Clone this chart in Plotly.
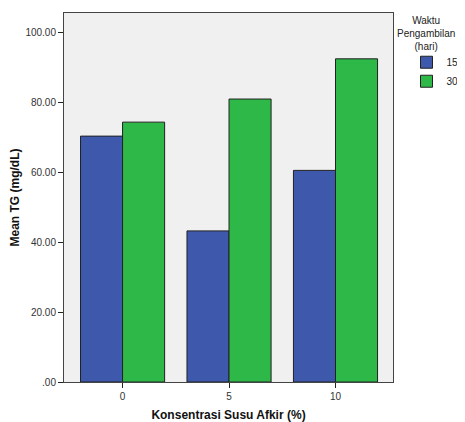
import plotly.graph_objects as go

categories = ["0", "5", "10"]
series_names = ["15", "30"]
values_15 = [70.3, 43.2, 60.5]
values_30 = [74.3, 80.9, 92.4]
y_ticks = [0, 20, 40, 60, 80, 100]
y_tick_labels = [".00", "20.00", "40.00", "60.00", "80.00", "100.00"]

colors = ["#3E58AC", "#2EB848"]

fig = go.Figure()
for name, vals, c in zip(series_names, [values_15, values_30], colors):
    fig.add_trace(go.Bar(
        x=categories, y=vals, name=name,
        marker=dict(color=c, line=dict(color="#222222", width=1)),
    ))

# page body has an 8px default margin, so the figure is sized/offset to compensate
fig.update_layout(
    width=457, height=414,
    barmode="group", bargap=0.21, bargroupgap=0,
    paper_bgcolor="white", plot_bgcolor="#F0F0F0",
    margin=dict(l=56, r=72, t=5, b=40, autoexpand=False),
    font=dict(family="Liberation Sans, Arial, sans-serif", size=10, color="#333333"),
    showlegend=True,
    legend=dict(
        xref="container", yref="container",
        x=0.872, y=0.904, xanchor="left", yanchor="top",
        font=dict(size=10, color="#222222"),
        bgcolor="rgba(0,0,0,0)", itemwidth=30, tracegroupgap=0,
    ),
    annotations=[dict(
        text="Waktu<br>Pengambilan<br>(hari)", xref="paper", yref="paper",
        x=1.10, y=1.0, xanchor="center", yanchor="top", showarrow=False,
        align="center", font=dict(size=10, color="#222222"),
    )],
)
fig.update_xaxes(
    type="category", range=[-0.55, 2.54],
    showline=True, linecolor="#444444", linewidth=1, mirror=True,
    ticks="outside", ticklen=5, tickcolor="#222222",
    title=dict(text="<b>Konsentrasi Susu Afkir (%)</b>", font=dict(size=12, color="#111111"), standoff=10),
    tickfont=dict(size=10, color="#333333"),
)
fig.update_yaxes(
    range=[0, 105.5], tickvals=y_ticks, ticktext=y_tick_labels,
    showgrid=False, zeroline=False,
    showline=True, linecolor="#444444", linewidth=1, mirror=True,
    ticks="outside", ticklen=5, tickcolor="#222222",
    title=dict(text="<b>Mean TG (mg/dL)</b>", font=dict(size=12, color="#111111"), standoff=6),
    tickfont=dict(size=10, color="#333333"),
)

fig.write_html("out.html")
